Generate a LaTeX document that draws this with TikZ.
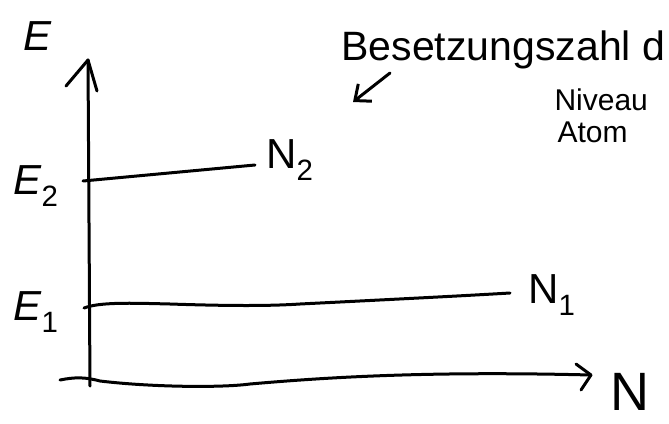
\documentclass[tikz,border=0pt]{standalone}
\usepackage{fontspec}
\setmainfont{Liberation Sans}
\usetikzlibrary{arrows.meta}
\begin{document}
\begin{tikzpicture}[x=1pt,y=-1pt, line width=3pt, line cap=round, line join=round,
  lbl/.style={inner sep=0pt, font=\fontsize{42}{42}\selectfont},
  note/.style={inner sep=0pt, anchor=base west, font=\fontsize{41}{41}\selectfont},
  small/.style={inner sep=0pt, anchor=base west, font=\fontsize{30}{30}\selectfont},
  axis/.style={line width=3pt}]
\useasboundingbox (0,0) rectangle (669,423);
% axes
\coordinate (ytip) at (88,60);
\coordinate (ybot) at (90,386);
\coordinate (yl) at (66,86);
\coordinate (yr) at (97,91);
\coordinate (xst) at (60,380);
\coordinate (xtip) at (591,375);
\coordinate (xu) at (576,364);
\coordinate (xd) at (581,390);
\draw[axis] (ybot) -- (ytip);
\draw[axis] (yl) -- (ytip) -- (yr);
\draw[axis] (xst) .. controls (75,377) and (85,377) .. (100,381)
  .. controls (150,387) and (220,388) .. (250,384)
  .. controls (330,377) and (430,371) .. (xtip);
\draw[axis] (xu) -- (xtip) -- (xd);
% labels on axes
\node[lbl, anchor=base, font=\fontsize{54}{54}\selectfont] (N) at (630,410) {N};
\node[lbl] (E) at (38,36) {\itshape E};
% levels
\node[lbl] (E2) at (36,186) {\itshape E$_{\mathrm{2}}$};
\node[lbl] (E1) at (36,312) {\itshape E$_{\mathrm{1}}$};
\coordinate (l2a) at (83,181);
\coordinate (l2b) at (255,165);
\coordinate (l1a) at (84,308);
\coordinate (l1b) at (510,293);
\draw (l2a) -- (l2b);
\draw (l1a) .. controls (100,302) and (130,303) .. (170,304)
  .. controls (230,306) and (270,306) .. (300,304)
  .. controls (380,300) and (460,296) .. (l1b);
\node[lbl] (N2) at (290,160) {N$_{\mathrm{2}}$};
\node[lbl] (N1) at (552,295) {N$_{\mathrm{1}}$};
% annotation
\node[note] (t1) at (340,60) {Besetzungszahl d};
\node[small] (t2) at (553,110) {Niveau};
\node[small] (t3) at (556,142) {Atom};
\coordinate (as) at (390,73);
\coordinate (ae) at (353,102);
\draw[-{Straight Barb[length=13pt,width=22pt]}] (as) -- (ae);
\end{tikzpicture}
\end{document}
